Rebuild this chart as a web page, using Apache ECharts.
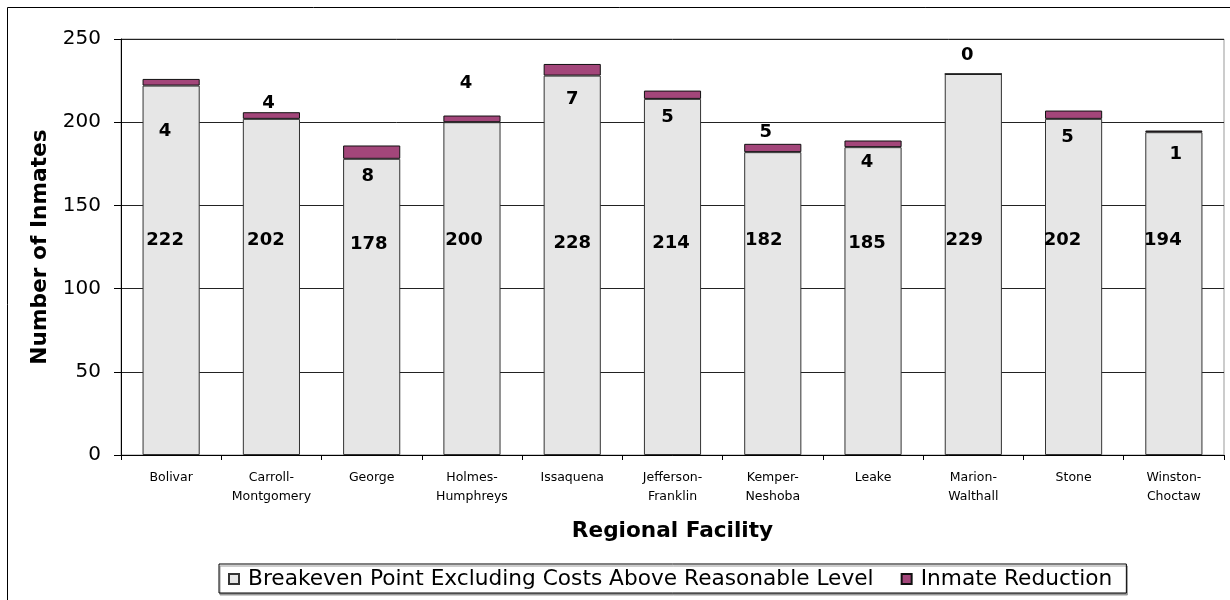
<!DOCTYPE html>
<html>
<head>
<meta charset="utf-8">
<script src="https://cdn.jsdelivr.net/npm/echarts@6/dist/echarts.min.js"></script>
<style>
  html, body { margin: 0; padding: 0; background: #fff; }
  #chart { width: 1230px; height: 600px; }
</style>
</head>
<body>
<div id="chart"></div>
<script>
// Regional facilities (two-line names break at the hyphen)
const categories = [
  'Bolivar', 'Carroll-\nMontgomery', 'George', 'Holmes-\nHumphreys', 'Issaquena',
  'Jefferson-\nFranklin', 'Kemper-\nNeshoba', 'Leake', 'Marion-\nWalthall', 'Stone',
  'Winston-\nChoctaw'
];
// Breakeven point excluding costs above reasonable level
const breakeven = [222, 202, 178, 200, 228, 214, 182, 185, 229, 202, 194];
// Inmate reduction stacked on top
const reduction = [4, 4, 8, 4, 7, 5, 5, 4, 0, 5, 1];
// Value axis ticks
const yMin = 0, yMax = 250, yStep = 50;

// Hand-placed label nudges (pixels), relative to each bar segment
const baseLabelDx = [-6, -5.5, -3, -8, 0, -1.5, -9, -6, -9, -11, -11];
const baseLabelDy = [-29.6, -47, -63, -48.7, -22.3, -34, -63.7, -58.2, -24.5, -47, -53.7];
const redLabelDx = [-6, -3, -4, -6, 0, -5, -7, -6, -6, -6, 2];
const redLabelDy = [52, -9, 31, -32, 35, 27, -12, 22, -18, 27, 24];

const FONT = '"DejaVu Sans", Verdana, sans-serif';

const chart = echarts.init(document.getElementById('chart'), null, { renderer: 'canvas' });

chart.setOption({
  animation: false,
  backgroundColor: '#fff',
  textStyle: { fontFamily: FONT, color: '#000' },
  graphic: [{
    type: 'rect',
    shape: { x: 7.5, y: 7.5, width: 1240, height: 620 },
    style: { fill: 'none', stroke: '#000', lineWidth: 1 },
    silent: true,
    z: -10
  }],
  grid: {
    left: 121, right: 6, top: 39, bottom: 145,
    show: true, borderColor: '#999', borderWidth: 1, backgroundColor: 'transparent'
  },
  legend: {
    left: 219, top: 564,
    padding: [4, 14, 3, 9],
    itemGap: 27,
    itemWidth: 10, itemHeight: 10,
    borderColor: '#000', borderWidth: 1,
    shadowColor: '#999', shadowOffsetX: 1, shadowOffsetY: 2, shadowBlur: 0,
    backgroundColor: '#fff',
    textStyle: { fontFamily: FONT, fontSize: 21.7, color: '#000', padding: [0, 0, 0, 4] },
    data: [
      { name: 'Breakeven Point Excluding Costs Above Reasonable Level', icon: 'rect' },
      { name: 'Inmate Reduction', icon: 'rect' }
    ]
  },
  xAxis: {
    type: 'category',
    data: categories,
    name: 'Regional Facility',
    nameLocation: 'middle',
    nameGap: 65,
    nameTextStyle: { fontFamily: FONT, fontSize: 21.6, fontWeight: 'bold', color: '#000' },
    axisLine: { show: true, lineStyle: { color: '#000', width: 1 } },
    axisTick: { show: true, length: 5, lineStyle: { color: '#000' } },
    axisLabel: {
      fontFamily: FONT, fontSize: 12.5, color: '#000',
      lineHeight: 19, margin: 13, interval: 0
    },
    splitLine: { show: false }
  },
  yAxis: {
    type: 'value',
    min: yMin, max: yMax, interval: yStep,
    name: 'Number of Inmates',
    nameLocation: 'middle',
    nameGap: 70,
    nameRotate: 90,
    nameTextStyle: { fontFamily: FONT, fontSize: 21.7, fontWeight: 'bold', color: '#000' },
    axisLine: { show: true, lineStyle: { color: '#000', width: 1 } },
    axisTick: { show: true, length: 7, lineStyle: { color: '#000' } },
    axisLabel: { fontFamily: FONT, fontSize: 20, color: '#000', margin: 20 },
    splitLine: { show: true, lineStyle: { color: '#222', width: 1 } }
  },
  series: [
    {
      name: 'Breakeven Point Excluding Costs Above Reasonable Level',
      type: 'bar',
      stack: 'total',
      barWidth: '57%',
      data: breakeven,
      itemStyle: { color: '#e6e6e6', borderColor: '#333', borderWidth: 1 },
      label: {
        show: true, position: 'inside',
        fontFamily: FONT, fontSize: 18, fontWeight: 'bold', color: '#000'
      },
      labelLayout: function (p) {
        const i = p.dataIndex, r = p.rect;
        return {
          x: r.x + r.width / 2 + baseLabelDx[i],
          y: r.y + r.height / 2 + baseLabelDy[i],
          align: 'center', verticalAlign: 'middle'
        };
      }
    },
    {
      name: 'Inmate Reduction',
      type: 'bar',
      stack: 'total',
      barWidth: '57%',
      data: reduction,
      itemStyle: { color: '#a3467a', borderColor: '#111', borderWidth: 1 },
      label: {
        show: true, position: 'inside',
        fontFamily: FONT, fontSize: 18, fontWeight: 'bold', color: '#000'
      },
      labelLayout: function (p) {
        const i = p.dataIndex, r = p.rect;
        return {
          x: r.x + r.width / 2 + redLabelDx[i],
          y: r.y + redLabelDy[i],
          align: 'center', verticalAlign: 'middle'
        };
      }
    }
  ]
});
</script>
</body>
</html>
